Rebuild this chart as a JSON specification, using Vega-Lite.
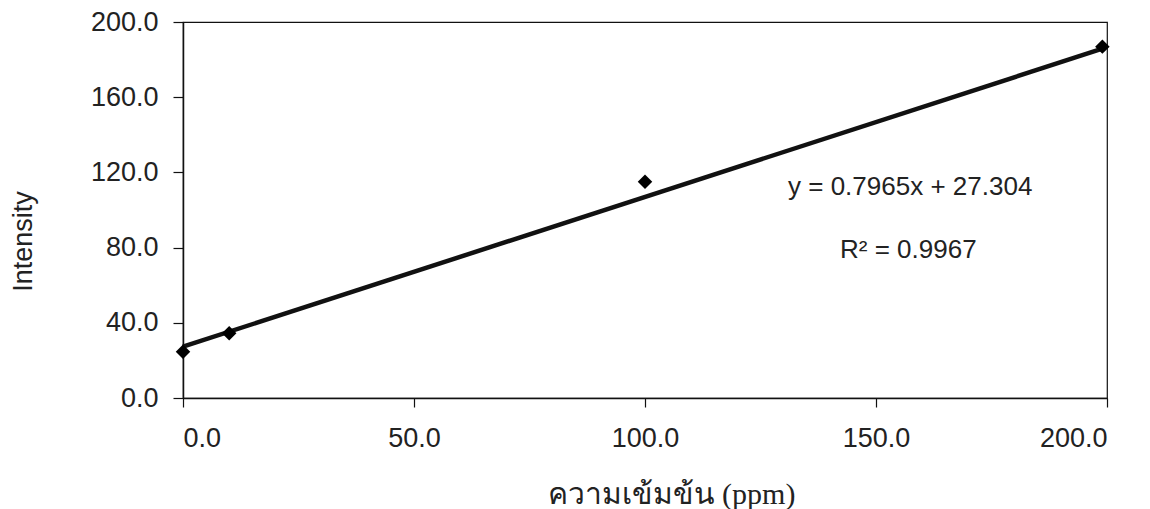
{
  "$schema": "https://vega.github.io/schema/vega-lite/v6.json",
  "width": 924,
  "height": 376,
  "autosize": {"type": "none"},
  "padding": {"left": 183, "top": 22, "right": 43, "bottom": 111},
  "background": "white",
  "config": {
    "view": {"stroke": "#111", "strokeWidth": 1.2},
    "axis": {
      "labelFont": "Liberation Sans",
      "labelFontSize": 27,
      "labelColor": "#222",
      "titleFont": "Liberation Sans",
      "titleFontWeight": "normal",
      "titleColor": "#222",
      "domainColor": "#111",
      "domainWidth": 1.5,
      "tickColor": "#111",
      "tickWidth": 1.2,
      "grid": false
    }
  },
  "datasets": {
    "points": [
      {"x": 0, "y": 24.6},
      {"x": 10, "y": 34.4},
      {"x": 100, "y": 115.0},
      {"x": 199, "y": 186.9}
    ],
    "trend": [
      {"x": 0, "y": 27.304},
      {"x": 199, "y": 185.81}
    ],
    "notes": [
      {"x": 157.4, "y": 112.2, "label": "y = 0.7965x + 27.304"},
      {"x": 157.0, "y": 78.7, "label": "R² = 0.9967"}
    ]
  },
  "layer": [
    {
      "data": {"name": "trend"},
      "mark": {"type": "line", "color": "#111", "strokeWidth": 4.5},
      "encoding": {
        "x": {
          "field": "x", "type": "quantitative",
          "scale": {"domain": [0, 200], "nice": false, "zero": false},
          "axis": {
            "values": [0, 50, 100, 150, 200], "format": ".1f",
            "tickSize": 9, "labelPadding": 18,
            "title": "ความเข้มข้น (ppm)",
            "titleFont": "Liberation Serif",
            "titleFontSize": 30,
            "titleX": 488, "titleY": 105,
            "titleAlign": "center", "titleBaseline": "alphabetic"
          }
        },
        "y": {
          "field": "y", "type": "quantitative",
          "scale": {"domain": [0, 200], "nice": false, "zero": false},
          "axis": {
            "values": [0, 40, 80, 120, 160, 200], "format": ".1f",
            "tickSize": 10, "labelPadding": 15,
            "title": "Intensity",
            "titleFontSize": 27,
            "titleAngle": -90,
            "titleX": -160, "titleY": 219,
            "titleAlign": "center", "titleBaseline": "middle"
          }
        }
      }
    },
    {
      "data": {"name": "points"},
      "mark": {"type": "point", "shape": "diamond", "filled": true, "color": "#000", "opacity": 1, "size": 210},
      "encoding": {
        "x": {"field": "x", "type": "quantitative"},
        "y": {"field": "y", "type": "quantitative"}
      }
    },
    {
      "data": {"name": "notes"},
      "mark": {"type": "text", "font": "Liberation Sans", "fontSize": 26, "color": "#222", "align": "center", "baseline": "middle"},
      "encoding": {
        "x": {"field": "x", "type": "quantitative"},
        "y": {"field": "y", "type": "quantitative"},
        "text": {"field": "label"}
      }
    }
  ]
}
